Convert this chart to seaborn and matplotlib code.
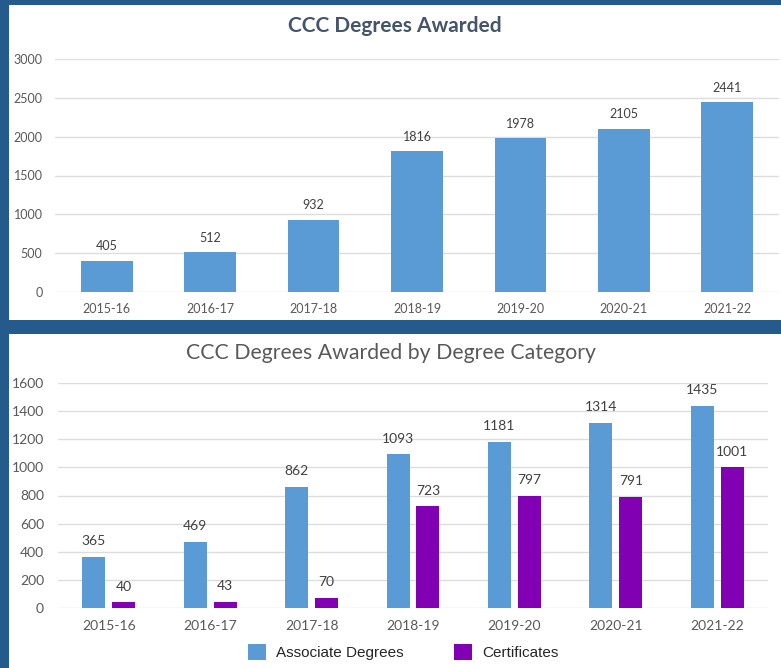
import matplotlib
matplotlib.use("Agg")
import matplotlib.pyplot as plt
from matplotlib.patches import Rectangle
import seaborn as sns
import pandas as pd

years = ["2015-16", "2016-17", "2017-18", "2018-19", "2019-20", "2020-21", "2021-22"]
total_degrees = [405, 512, 932, 1816, 1978, 2105, 2441]
associate_degrees = [365, 469, 862, 1093, 1181, 1314, 1435]
certificates = [40, 43, 70, 723, 797, 791, 1001]
categories = ["Associate Degrees", "Certificates"]

BLUE = "#5B9BD5"
PURPLE = "#8200B4"
BG = "#255A8C"
GRID = "#DDDDDD"
TICK = "#595959"
LABEL = "#404040"

sns.set_theme(style="white")
plt.rcParams["font.family"] = ["Lato", "DejaVu Sans"]

W, H = 781, 668
fig = plt.figure(figsize=(W / 100, H / 100), dpi=100)
fig.patch.set_facecolor(BG)

def fx(px):
    return px / W

def fy(py):
    return 1 - py / H

# white panels (drawn beneath the axes)
fig.patches.append(Rectangle((fx(9), fy(320)), fx(781 - 9), (320 - 5) / H,
                             transform=fig.transFigure, facecolor="white",
                             edgecolor="none", zorder=-5))
fig.patches.append(Rectangle((fx(9), 0), fx(781 - 9), (668 - 334) / H,
                             transform=fig.transFigure, facecolor="white",
                             edgecolor="none", zorder=-5))

# ---------- top chart ----------
ax1 = fig.add_axes([fx(55), fy(292), fx(779 - 55), (292 - 59) / H])
df1 = pd.DataFrame({"year": years, "total": total_degrees})
sns.barplot(data=df1, x="year", y="total", color=BLUE, width=0.5,
            saturation=1, linewidth=0, ax=ax1, zorder=3)
ax1.set_ylim(0, 3000)
ax1.set_yticks(range(0, 3001, 500))
ax1.set_xlabel("")
ax1.set_ylabel("")
ax1.set_facecolor("none")
ax1.grid(axis="y", color=GRID, linewidth=1, zorder=0)
ax1.set_axisbelow(True)
for s in ax1.spines.values():
    s.set_visible(False)
ax1.tick_params(axis="both", length=0, labelsize=9, colors=TICK)
ax1.tick_params(axis="y", pad=9)
ax1.tick_params(axis="x", pad=8)
for c in ax1.containers:
    ax1.bar_label(c, padding=6, fontsize=9, color=LABEL)
fig.text(fx(395), fy(26), "CCC Degrees Awarded", ha="center", va="center",
         fontsize=15, fontweight="bold", color="#44546A")

# ---------- bottom chart ----------
ax2 = fig.add_axes([fx(58), fy(608), fx(768 - 58), (608 - 383) / H])
df2 = pd.DataFrame({
    "year": years * 2,
    "count": associate_degrees + certificates,
    "category": [categories[0]] * len(years) + [categories[1]] * len(years),
})
sns.barplot(data=df2, x="year", y="count", hue="category",
            palette=[BLUE, PURPLE], width=0.59, gap=0.23, linewidth=0,
            saturation=1, ax=ax2, zorder=3)
ax2.set_ylim(0, 1600)
ax2.set_yticks(range(0, 1601, 200))
ax2.set_xlabel("")
ax2.set_ylabel("")
ax2.set_facecolor("none")
ax2.grid(axis="y", color=GRID, linewidth=1, zorder=0)
ax2.set_axisbelow(True)
for s in ax2.spines.values():
    s.set_visible(False)
ax2.tick_params(axis="both", length=0, labelsize=10, colors=TICK)
ax2.tick_params(axis="y", pad=10)
ax2.tick_params(axis="x", pad=9)
for c in ax2.containers:
    ax2.bar_label(c, padding=7, fontsize=10, color=LABEL)

handles, labels = ax2.get_legend_handles_labels()
ax2.get_legend().remove()
fig.legend(handles, labels, loc="center", bbox_to_anchor=(fx(403), fy(652)),
           ncol=2, frameon=False, handlelength=1.2, handleheight=1.3,
           handletextpad=0.65, columnspacing=3.3,
           prop={"family": "Liberation Sans", "size": 11})
for t in fig.legends[0].get_texts():
    t.set_color("#262626")

fig.text(fx(391), fy(353), "CCC Degrees Awarded by Degree Category",
         ha="center", va="center", fontsize=15.3, color=TICK)

fig.savefig("out.png", dpi=100, facecolor=BG)
